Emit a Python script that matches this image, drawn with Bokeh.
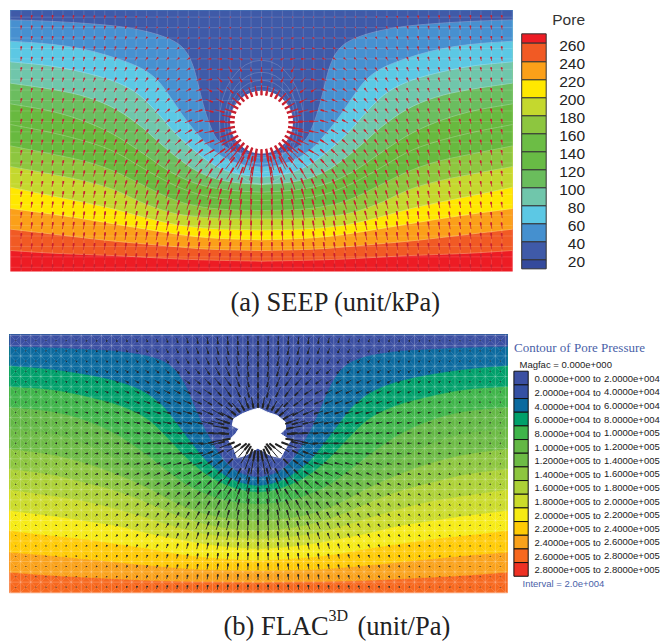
import numpy as np
from bokeh.plotting import figure
from bokeh.core.properties import value
from bokeh.embed import file_html
from bokeh.resources import INLINE

# ---- values ----
# Contours are read as (x, y) in 3x zoomed reference pixels, left half of each panel.
seep_contours = [
 [(30,58),(150,62),(280,70),(380,80),(470,100),(530,125),(560,155),(580,200),(595,260),(610,320),(630,380),(650,420),(690,450),(730,462),(783,465)],
 [(30,122),(150,130),(250,145),(340,170),(420,200),(470,235),(510,290),(550,350),(590,400),(630,445),(680,478),(730,495),(783,500)],
 [(30,184),(150,195),(250,215),(340,240),(410,275),(470,335),(520,395),(580,450),(640,495),(700,520),(783,530)],
 [(30,248),(150,265),(250,285),(340,320),(420,375),(480,430),(540,480),(600,520),(680,545),(783,552)],
 [(30,310),(150,330),(250,360),(340,400),(430,460),(500,510),(580,550),(680,570),(783,575)],
 [(30,372),(150,395),(250,420),(340,450),(430,505),(520,555),(600,585),(680,597),(783,600)],
 [(30,436),(150,460),(250,480),(340,510),(430,555),(520,600),(600,620),(680,628),(783,630)],
 [(30,498),(150,520),(250,540),(340,565),(430,610),(520,640),(600,650),(680,654),(783,655)],
 [(30,560),(150,585),(250,605),(340,625),(430,650),(520,672),(600,682),(680,686),(783,688)],
 [(30,624),(150,640),(250,655),(340,670),(430,685),(520,700),(600,710),(680,715),(783,718)],
 [(30,686),(150,700),(250,712),(340,722),(430,730),(520,738),(600,745),(680,748),(783,750)],
 [(30,750),(150,758),(250,762),(340,765),(430,770),(520,775),(600,778),(680,780),(783,782)],
]
seep_band_colors = ["#3f5aa8","#4790d0","#5cc8e4","#70c6ab","#6bbd5f","#68b93f","#68b93f","#8dc63f",
                    "#c4d82e","#ffe800","#fba019","#f15a24","#ed1c24"]
seep_legend_labels = ["260","240","220","200","180","160","140","120","100","80","60","40","20"]
seep_legend_colors = ["#ed1c24","#f15a24","#fba019","#ffe800","#c4d82e","#8dc63f","#6cbd45","#68bb45",
                      "#6abd5c","#70c6ab","#5cc8e4","#4590cf","#3f5aa8","#344a9c"]
seep_legend_edges = [100,128,184,238,292,346,400,454,508,562,616,670,724,778,805]

flac_contours = [
 [(27,48),(150,50),(250,55),(350,60),(450,75),(510,100),(550,150),(580,220),(610,290),(650,360),(680,400),(720,430),(774,440)],
 [(27,105),(150,115),(250,130),(350,150),(430,180),(490,225),(530,280),(580,345),(620,395),(680,440),(730,460),(774,465)],
 [(27,168),(150,175),(250,195),(350,220),(440,260),(500,320),(560,385),(620,435),(680,465),(730,480),(774,485)],
 [(27,230),(150,240),(250,265),(350,310),(430,365),(500,420),(560,465),(640,500),(700,515),(774,520)],
 [(27,295),(150,305),(250,335),(350,385),(430,430),(520,480),(600,520),(680,540),(774,545)],
 [(27,355),(150,370),(250,395),(350,430),(450,475),(530,520),(610,550),(690,565),(774,570)],
 [(27,415),(150,430),(250,455),(350,480),(450,520),(530,555),(610,580),(690,595),(774,600)],
 [(27,477),(150,495),(250,510),(350,535),(450,565),(530,590),(610,610),(690,620),(774,625)],
 [(27,540),(150,555),(250,570),(350,585),(450,610),(530,625),(610,640),(690,650),(774,655)],
 [(27,600),(150,615),(250,625),(350,640),(450,655),(530,670),(610,680),(690,685),(774,690)],
 [(27,665),(150,675),(250,685),(350,695),(450,705),(530,712),(610,718),(774,720)],
 [(27,725),(150,735),(250,740),(350,745),(450,750),(530,752),(610,753),(774,755)],
]
flac_band_colors = ["#3b4fa2","#0b6a9f","#00a06a","#3fb54a","#63b845","#6dbb45","#8dc63f","#add136",
                    "#cbdb2a","#f6eb14","#ffcb05","#faa21b","#f7681e"]
flac_legend_colors = ["#3b4fa2","#3450a3","#0b6a9f","#00a06a","#3fb54a","#63b845","#6dbb45","#8dc63f",
                      "#add136","#cbdb2a","#f6eb14","#ffcb05","#faa21b","#f7681e","#ee3124"]
flac_from = ["0.0000e+000","2.0000e+004","4.0000e+004","6.0000e+004","8.0000e+004","1.0000e+005","1.2000e+005",
             "1.4000e+005","1.6000e+005","1.8000e+005","2.0000e+005","2.2000e+005","2.4000e+005","2.6000e+005","2.8000e+005"]
flac_to = ["2.0000e+004","4.0000e+004","6.0000e+004","8.0000e+004","1.0000e+005","1.2000e+005","1.4000e+005",
           "1.6000e+005","1.8000e+005","2.0000e+005","2.2000e+005","2.4000e+005","2.6000e+005","2.8000e+005","2.8000e+005"]
flac_hole_zoom = [(265,113),(290,125),(320,135),(345,155),(345,175),(330,190),(360,210),(345,235),(330,262),(300,255),
                  (262,233),(225,255),(200,262),(190,235),(175,210),(195,190),(205,175),(185,165),(190,145),(215,130),(240,120)]

# Coarse vector tables (dx, dy px; left half). Mesh arrows between these
# stations are bilinearly sampled from them: approximate, not read arrow by arrow.
table_x = [10,60,110,160,200,230,261]
seep_table_y = [15,50,85,120,155,190,225,265]
seep_dx = [[.3,.4,.4,.4,.4,.5,0],[.4,.6,1,2,3,4,0],[.8,1,2,3,5,8,0],[.8,1,2,4,8,12,0],
           [.8,1,2,4,8,10,0],[.8,1,1.5,3,4,3,0],[.6,1,1,2,2,1,0],[.3,.5,.5,.5,.5,.3,0]]
seep_dy = [[-4,-4,-3,-1,-.5,0,.5],[-4,-4,-4,-2,-1,1,2],[-4,-4,-4,-4,-2,1,7],[-5,-5,-5,-4,-2,0,0],
           [-5,-5,-6,-6,-7,-12,-16],[-5,-6,-7,-8,-10,-12,-13],[-6,-7,-8,-9,-10,-10,-10],[-5,-6,-6,-7,-7,-7,-7]]
flac_table_y = [340,375,410,445,480,515,550,588]
flac_dx = [[.3,.5,1,1.5,1,.5,0],[.7,1.5,3,4,5,5,0],[.8,2,4,7,9,14,0],[.8,2,4,8,12,16,0],
           [.7,1.5,3,5,7,10,0],[.4,1,2,3,4,3,0],[.2,.5,1,1.5,1,1,0],[0,.2,.5,1,.5,.3,0]]
flac_dy = [[.5,1,2,3,6,8,9],[.5,1,2,3,5,9,12],[.1,.3,1,2,3,5,14],[0,0,0,0,0,0,0],
           [-.5,-1,-1,-3,-5,-12,-16],[-.3,-1,-2,-4,-7,-10,-12],[-.5,-1,-2,-3,-6,-7,-8],[-.5,-.7,-1,-3,-4,-5,-5]]

# Spokes round the tunnels, every 10 degrees clockwise from the right
seep_spoke_len = [14,15,17,19,21,23,25,27,28,28,28,27,25,23,21,19,17,15,14,13,12,12,11,11,11,10,10,10,10,10,10,11,11,11,12,13]
flac_spoke_len = [17,17,16,16,16,18,20,22,24,24,24,22,20,18,16,16,16,17,17,16,15,14,13,12,12,12,11,11,11,11,11,12,12,13,14,16]
flac_spoke_tip = [29,28,25,20,15,13,14,16,17,17,17,16,14,13,15,20,25,28,29,30,30,29,29,28,27,27,26,26,26,26,27,27,28,29,29,29]

seep_c = (261.0, 121.7); seep_r = 31.0
flac_c = (257.5, 433.3)

# ---- drawing ----
# data units equal page pixels of the photographed window
p = figure(width=660, height=642, x_range=(0,660), y_range=(642,0), output_backend="svg", toolbar_location=None,
           x_axis_type=None, y_axis_type=None, min_border=0, outline_line_color=None,
           background_fill_color="white", border_fill_color="white")
p.grid.visible = False

def smooth(pts, n=2):
    a = np.array(pts, float)
    for _ in range(n):
        q = a[:-1]*.75 + a[1:]*.25
        r = a[:-1]*.25 + a[1:]*.75
        m = np.empty((len(q)*2, 2)); m[0::2] = q; m[1::2] = r
        a = np.vstack([a[:1], m, a[-1:]])
    return a

def bands(contours, colors, left, right, top, bottom, cx, y_off, edge_alpha):
    xs, ys, cols = [[left,right,right,left]], [[top,top,bottom,bottom]], [colors[-1]]
    lx, ly = [], []
    for k in range(len(contours)-1, -1, -1):
        c = smooth(contours[k])/3.0
        c[:,1] += y_off
        x = np.r_[c[:,0], (2*cx-c[:,0])[::-1][1:]]
        y = np.r_[c[:,1], c[:,1][::-1][1:]]
        x[0] = left; x[-1] = right
        xs.append(list(x)+[right,left]); ys.append(list(y)+[top,top]); cols.append(colors[k])
        lx.append(list(x)); ly.append(list(y))
    p.patches(xs, ys, fill_color=cols, line_color=cols, line_width=.5)
    if edge_alpha:
        p.multi_line(lx, ly, line_color="white", line_alpha=edge_alpha, line_width=.8)

bands(seep_contours, seep_band_colors, 10, 512, 10, 270.7, seep_c[0], 0.0, .3)
bands(flac_contours, flac_band_colors, 9, 507, 334, 592.3, flac_c[0], 330.0, 0)

def sample(xq, yq, ty, dx, dy):
    i = np.interp(xq, table_x, np.arange(len(table_x)))
    j = np.interp(yq, ty, np.arange(len(ty)))
    i0, j0 = min(int(i), len(table_x)-2), min(int(j), len(ty)-2)
    u, v = i-i0, j-j0
    f = lambda t: (t[j0][i0]*(1-u)*(1-v)+t[j0][i0+1]*u*(1-v)+t[j0+1][i0]*(1-u)*v+t[j0+1][i0+1]*u*v)
    return f(dx), f(dy)

def arrows(tails, color, lw, hw):
    t = np.array(tails)
    x0,y0,x1,y1 = t.T
    p.segment(x0,y0,x1,y1,line_color=color,line_width=lw)
    xm, ym = x0+(x1-x0)*.55, y0+(y1-y0)*.55
    p.segment(xm,ym,x1,y1,line_color=color,line_width=hw)

def field(c, rows, step, ncol, ty, dx, dy, hole_r, near_r):
    out = []
    for yy in rows:
        for k in range(-ncol, ncol+1):
            xx = c[0]+k*step
            r = np.hypot(xx-c[0], yy-c[1])
            if r < hole_r:
                continue
            tx = table_x[-1]-abs(k)*step
            ddx, ddy = sample(tx, yy, ty, dx, dy)
            if k > 0:
                ddx = -ddx
            if r < near_r:
                m = np.hypot(ddx, ddy)
                ddx, ddy = (c[0]-xx)/r*m, (c[1]-yy)/r*m
            out.append((xx-ddx*.5, yy-ddy*.5, xx+ddx*.5, yy+ddy*.5))
    return out

# SEEP mesh
sx = [seep_c[0]+k*10.45 for k in range(-24,25)]
sx = [v for v in sx if 10 <= v <= 512]
sy = [16.7+10.42*j for j in range(25)]
p.segment(sx,[10]*len(sx),sx,[270.7]*len(sx),line_color="white",line_alpha=.14,line_width=1)
p.segment([10]*len(sy),sy,[512]*len(sy),sy,line_color="white",line_alpha=.14,line_width=1)
for w,h in [(84,124),(74,100),(68,84),(62,72)]:
    p.ellipse([seep_c[0]],[seep_c[1]],width=[w],height=[h],fill_alpha=0,line_color="white",line_alpha=.22,line_width=.8)
p.circle([seep_c[0]],[seep_c[1]],radius=seep_r,fill_color="white",line_color="white")
arrows(field(seep_c, sy, 10.45, 23, seep_table_y, seep_dx, seep_dy, seep_r+10, 62), "#c8202f", .8, 1.7)
spk = []
for d, L in enumerate(seep_spoke_len):
    a = np.deg2rad(d*10)
    ca, sa = np.cos(a), np.sin(a)
    spk.append((seep_c[0]+(27+L)*ca, seep_c[1]+(27+L)*sa, seep_c[0]+27*ca, seep_c[1]+27*sa))
arrows(spk, "#c8202f", 1.1, 2.4)

# FLAC mesh
fx = [flac_c[0]+(k+.5)*10.1 for k in range(-25,25)]
fx = [v for v in fx if 9 <= v <= 507]
fy = [334.9+10.28*j for j in range(26)]
p.segment(fx,[334]*len(fx),fx,[592.3]*len(fx),line_color="white",line_alpha=.28,line_width=.8)
p.segment([9]*len(fy),fy,[507]*len(fy),fy,line_color="white",line_alpha=.28,line_width=.8)
dgx0,dgy0,dgx1,dgy1 = [],[],[],[]
for a,b in zip(fx[:-1],fx[1:]):
    for c_,d in zip(fy[:-1],fy[1:]):
        dgx0 += [a,a]; dgy0 += [c_,d]; dgx1 += [b,b]; dgy1 += [d,c_]
p.segment(dgx0,dgy0,dgx1,dgy1,line_color="white",line_alpha=.22,line_width=.7)
hx = [170+q[0]/3 for q in flac_hole_zoom]; hy = [370+q[1]/3 for q in flac_hole_zoom]
p.patch(hx,hy,fill_color="white",line_color="white")
frows = [340+10.28*j for j in range(25)]
arrows(field(flac_c, frows, 10.1, 24, flac_table_y, flac_dx, flac_dy, 38, 60), "#232323", .8, 1.7)
spk = []
for d,(L,T) in enumerate(zip(flac_spoke_len, flac_spoke_tip)):
    a = np.deg2rad(d*10)
    ca, sa = np.cos(a), np.sin(a)
    spk.append((flac_c[0]+(T+L)*ca, flac_c[1]+(T+L)*sa, flac_c[0]+T*ca, flac_c[1]+T*sa))
arrows(spk, "#232323", 1.0, 2.1)

# SEEP legend
e = [v/3 for v in seep_legend_edges]
p.quad(left=521.2,right=545.7,top=e[:-1],bottom=e[1:],fill_color=seep_legend_colors,line_color="#333333",line_width=1)
sans = value("Liberation Sans")
p.text([584.5],[18.8],text=["Pore"],text_font=sans,text_font_size=value("15.5px"),
       text_align="right",text_baseline="middle",text_color="#333333")
p.text([584.5]*13,[45.3+18*i for i in range(13)],text=seep_legend_labels,text_font=sans,
       text_font_size=value("15.5px"),text_align="right",text_baseline="middle",text_color="#222222")

# FLAC legend
top = [370.7+13.67*i for i in range(15)]
p.quad(left=513.4,right=527.7,top=top,bottom=[v+13.67 for v in top],fill_color=flac_legend_colors,line_color="#111111",line_width=1)
p.text([513.5],[347],text=["Contour of Pore Pressure"],text_font=value("Liberation Serif"),text_font_size=value("13px"),
       text_baseline="middle",text_color="#4a5fa8")
p.text([519],[363.5],text=["Magfac =  0.000e+000"],text_font=sans,text_font_size=value("9.5px"),text_baseline="middle",text_color="#222222")
ry = [378.3+13.64*i for i in range(15)]
p.text([534]*15,ry,text=[s+" to" for s in flac_from],text_font=sans,text_font_size=value("9.5px"),text_baseline="middle",text_color="#222222")
p.text([603.5]*15,ry,text=flac_to,text_font=sans,text_font_size=value("9.5px"),text_baseline="middle",text_color="#222222")
p.text([522],[582.7],text=["Interval =  2.0e+004"],text_font=sans,text_font_size=value("9.5px"),text_baseline="middle",text_color="#4a5fa8")

# captions
ser = value("Liberation Serif")
p.text([230],[301],text=["(a) SEEP (unit/kPa)"],text_font=ser,text_font_size=value("26.5px"),text_baseline="alphabetic",text_color="#222222")
p.text([223],[625],text=["(b) FLAC"],text_font=ser,text_font_size=value("26.5px"),text_baseline="alphabetic",text_color="#222222")
p.text([328],[615],text=["3D"],text_font=ser,text_font_size=value("16px"),text_baseline="alphabetic",text_color="#222222")
p.text([357],[625],text=["(unit/Pa)"],text_font=ser,text_font_size=value("26.5px"),text_baseline="alphabetic",text_color="#222222")

open("out.html","w").write(file_html(p, INLINE))
